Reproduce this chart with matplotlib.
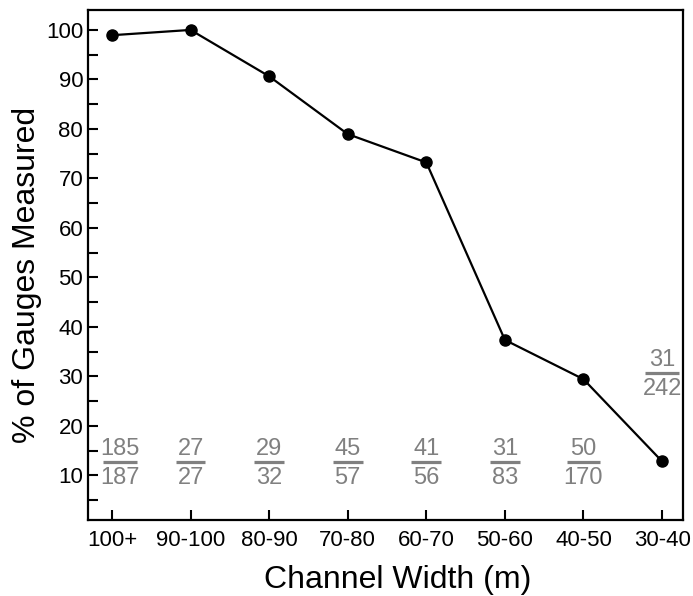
import matplotlib
matplotlib.use("Agg")
import matplotlib.pyplot as plt
from matplotlib.ticker import MultipleLocator

plt.rcParams['font.family'] = ['Liberation Sans', 'DejaVu Sans']

widths = ["100+", "90-100", "80-90", "70-80", "60-70", "50-60", "40-50", "30-40"]
measured = [185, 27, 29, 45, 41, 31, 50, 31]
total = [187, 27, 32, 57, 56, 83, 170, 242]
# y position (in % units) of the fraction bar for each label
frac_y = [12.6, 12.6, 12.6, 12.6, 12.6, 12.6, 12.6, 30.6]

pct = [100.0 * m / t for m, t in zip(measured, total)]
x = list(range(len(widths)))

fig, ax = plt.subplots(figsize=(6.93, 5.96), dpi=100)
fig.subplots_adjust(left=0.127, right=0.986, top=0.983, bottom=0.127)

ax.plot(x, pct, '-o', color='black', lw=1.6, markersize=8)

gray = '#808080'
for xi, m, t, fy in zip(x, measured, total, frac_y):
    xt = xi + 0.1 if xi == 0 else xi  # first label nudged off the spine
    ax.text(xt, fy + 1.4, str(m), ha='center', va='baseline', color=gray, fontsize=17)
    ax.text(xt, fy - 1.0, str(t), ha='center', va='top', color=gray, fontsize=17)
    w = 0.215 if max(len(str(m)), len(str(t))) > 2 else 0.19
    ax.plot([xt - w, xt + w], [fy, fy], color=gray, lw=2.3, solid_capstyle='butt')

ax.set_xlim(-0.305, 7.27)
ax.set_ylim(0.9, 104)
ax.set_xticks(x)
ax.set_xticklabels(widths)
ax.yaxis.set_major_locator(MultipleLocator(10))
ax.yaxis.set_minor_locator(MultipleLocator(5))
ax.set_yticks(range(10, 101, 10))
ax.tick_params(axis='both', which='both', direction='in', labelsize=16, width=1.5)
ax.tick_params(axis='both', which='major', length=7)
ax.tick_params(axis='y', which='minor', length=7)
ax.tick_params(axis='x', pad=7)
for s in ax.spines.values():
    s.set_linewidth(1.6)

ax.set_xlabel('Channel Width (m)', fontsize=23)
ax.set_ylabel('% of Gauges Measured', fontsize=23)
ax.xaxis.set_label_coords(0.52, -0.088)
ax.yaxis.set_label_coords(-0.078, 0.48)

fig.savefig('out.png', dpi=100)
